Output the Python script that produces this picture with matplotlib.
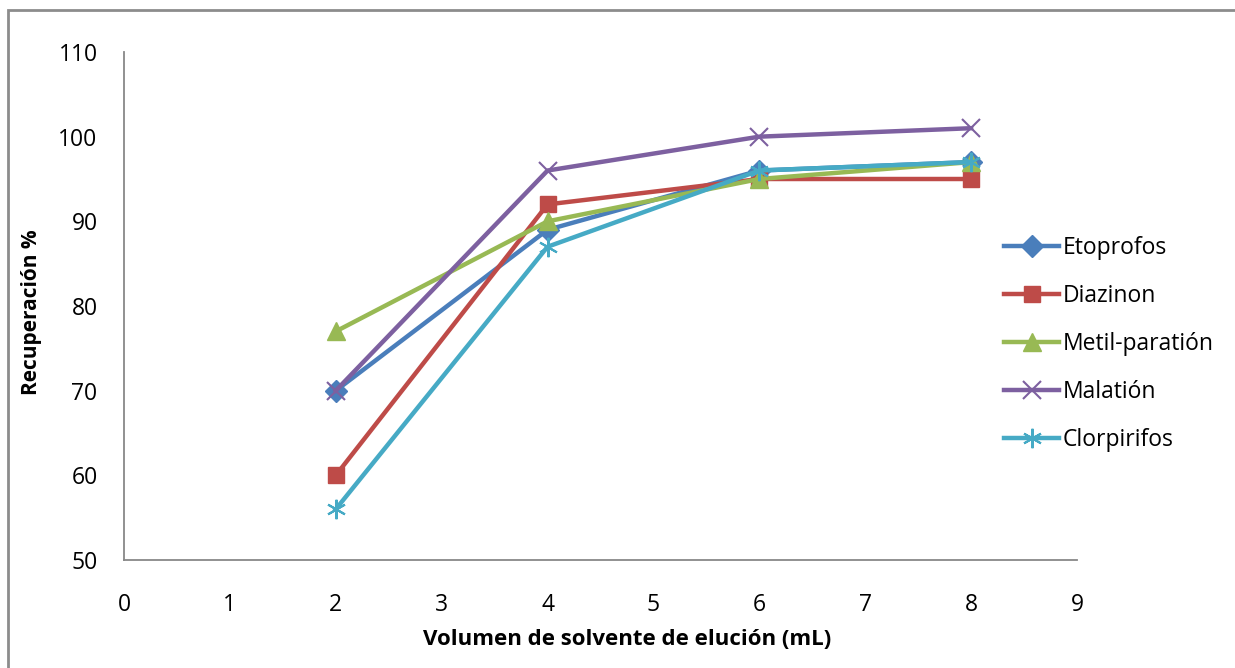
import matplotlib.pyplot as plt
from matplotlib.patches import Rectangle

plt.rcParams['font.family'] = ['Open Sans', 'DejaVu Sans']

# data
volumen = [2, 4, 6, 8]
etoprofos = [70, 89, 96, 97]
diazinon = [60, 92, 95, 95]
metil_paration = [77, 90, 95, 97]
malation = [70, 96, 100, 101]
clorpirifos = [56, 87, 96, 97]

series = [
    ('Etoprofos', etoprofos, '#4A7EBB', 'D', 11),
    ('Diazinon', diazinon, '#BE4B48', 's', 12),
    ('Metil-paratión', metil_paration, '#98B954', '^', 13),
    ('Malatión', malation, '#7D60A0', 'x', 13),
    ('Clorpirifos', clorpirifos, '#46AAC5', (6, 2, 0), 14),
]

fig = plt.figure(figsize=(12.35, 6.68), dpi=100)
ax = fig.add_axes([124 / 1235, 1 - 560 / 668, (1077 - 124) / 1235, (560 - 52) / 668])

for name, vals, col, mk, ms in series:
    if mk == 'x' or isinstance(mk, tuple):
        ax.plot(volumen, vals, color=col, lw=3.2, marker=mk, ms=ms, mew=1.5, label=name)
    else:
        ax.plot(volumen, vals, color=col, lw=3.2, marker=mk, ms=ms, mec=col, label=name)

ax.set_xlim(0, 9)
ax.set_ylim(50, 110)
ax.set_xticks(range(0, 10))
ax.set_yticks(range(50, 111, 10))
ax.tick_params(length=0, labelsize=16.5)
ax.tick_params(axis='y', pad=19)
ax.tick_params(axis='x', pad=24)
for s in ['top', 'right']:
    ax.spines[s].set_visible(False)
for s in ['left', 'bottom']:
    ax.spines[s].set_color('#888888')
    ax.spines[s].set_linewidth(1.3)

ax.set_xlabel('Volumen de solvente de elución (mL)', fontsize=16, fontweight='bold')
ax.set_ylabel('Recuperación %', fontsize=15, fontweight='bold')
ax.xaxis.set_label_coords((627 - 124) / 953, (560 - 629) / 508)
ax.yaxis.set_label_coords((42 - 124) / 953, (560 - 312) / 508)

ax.legend(loc='center left', bbox_to_anchor=(1004 / 1235, 1 - 344 / 668), bbox_transform=fig.transFigure,
          frameon=False, fontsize=16.5, handlelength=2.4, handletextpad=0.15, labelspacing=1.04,
          borderaxespad=0, borderpad=0)

# outer chart border (cut off on right and bottom)
fig.patches.append(Rectangle((8 / 1235, -0.1), 1.2, 1 - 10 / 668 + 0.1, transform=fig.transFigure,
                             fill=False, edgecolor='#8c8c8c', lw=2))

fig.savefig('out.png', dpi=100)
